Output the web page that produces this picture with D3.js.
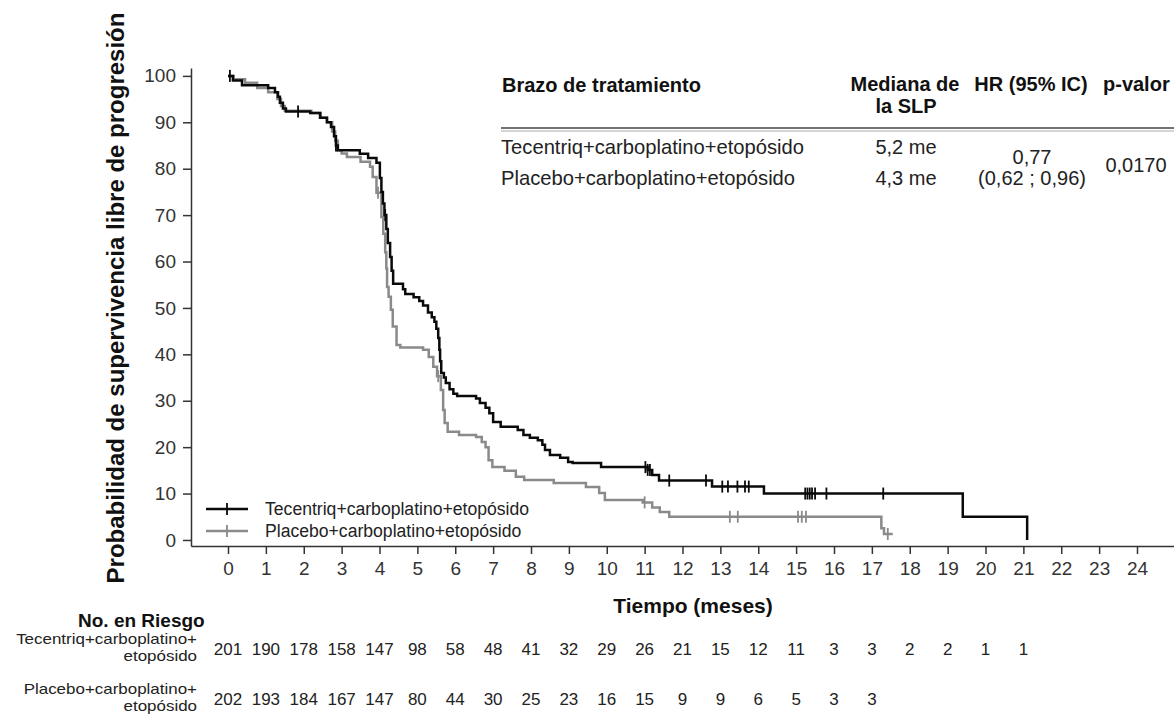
<!DOCTYPE html>
<html>
<head>
<meta charset="utf-8">
<script src="https://cdn.jsdelivr.net/npm/d3@7"></script>
<style>
  body { margin: 0; background: #fff; }
  svg { font-family: "Liberation Sans", Arial, sans-serif; }
</style>
</head>
<body>
<div id="chart"></div>
<script>
// ---- data ----
var months = d3.range(0, 25);
var yTicks = d3.range(0, 101, 10);

var tecTime = [0, 0.13, 0.37, 1.06, 1.24, 1.32, 1.37, 1.45, 1.53, 2.17,
  2.43, 2.61, 2.72, 2.80, 2.85, 2.90, 3.48, 3.70, 3.92, 4.01,
  4.05, 4.09, 4.13, 4.18, 4.22, 4.28, 4.32, 4.36, 4.62, 4.68,
  4.90, 5.05, 5.15, 5.28, 5.38, 5.45, 5.50, 5.55, 5.58, 5.60,
  5.63, 5.70, 5.75, 5.85, 5.95, 6.05, 6.55, 6.65, 6.80, 6.90,
  7.00, 7.20, 7.65, 7.80, 7.97, 8.18, 8.30, 8.37, 8.50, 8.77,
  8.98, 9.10, 9.85, 11.08, 11.20, 11.38, 12.78, 14.15, 19.40, 21.10];
var tecSurv = [100, 99, 98, 97.4, 96.5, 95.5, 94.2, 93, 92.3, 92,
  91, 90, 89, 87, 85, 84, 83.2, 82.3, 81.3, 78,
  75, 72.5, 70, 67, 64, 61, 58, 55.2, 54, 53,
  52.3, 51.5, 50.5, 49, 48, 47, 45.5, 43.5, 41, 38.5,
  36, 35, 33.8, 32.5, 31.5, 31, 30.5, 29.5, 28.5, 27.3,
  25.4, 24.4, 23.7, 22.6, 22, 21.5, 20.5, 19.4, 18.3, 17.7,
  16.8, 16.6, 15.7, 15.1, 14, 12.8, 11.5, 10, 5, 0];
var tecCens = [0.05, 1.85, 2.85, 4.15, 11.02, 11.08, 11.14, 11.65, 12.62, 13.05,
  13.2, 13.45, 13.65, 13.75, 15.24, 15.3, 15.36, 15.42, 15.5, 15.8, 17.3];

var plaTime = [0, 0.15, 0.45, 0.77, 1.06, 1.3, 1.4, 1.5, 2.2, 2.45,
  2.62, 2.75, 2.83, 2.9, 3.0, 3.14, 3.5, 3.75, 3.82, 3.92,
  4.05, 4.1, 4.15, 4.18, 4.2, 4.24, 4.3, 4.35, 4.45, 4.55,
  5.15, 5.3, 5.42, 5.52, 5.62, 5.68, 5.72, 5.8, 6.1, 6.55,
  6.7, 6.8, 6.88, 6.98, 7.3, 7.6, 7.82, 8.6, 9.45, 9.8,
  9.95, 10.95, 11.2, 11.4, 11.65, 17.25, 17.32, 17.55];
var plaSurv = [100, 99.3, 98.5, 97.4, 96.5, 95, 93.5, 92.5, 92, 91,
  90, 88, 86, 84, 83.3, 82.5, 81.5, 80.4, 78.2, 74.8,
  69.6, 66, 62, 58.5, 54.5, 52.4, 49.6, 46, 42, 41.5,
  41, 39.4, 37.3, 35.3, 32.3, 28, 25.2, 23.3, 22.6, 22.2,
  21.1, 20, 17.2, 15.7, 14.9, 13.6, 12.9, 12.3, 11.4, 10.1,
  8.6, 8.1, 7, 6, 5, 2.5, 1.3, 1.3];
var plaCens = [3.96, 5.55, 11.0, 13.25, 13.46, 15.05, 15.15, 15.26, 17.42];

var armNames = ["Tecentriq+carboplatino+etopósido", "Placebo+carboplatino+etopósido"];
var medians = ["5,2 me", "4,3 me"];
var hrText = ["0,77", "(0,62 ; 0,96)"];
var pValue = "0,0170";

var riskLabels = [["Tecentriq+carboplatino+", "etopósido"], ["Placebo+carboplatino+", "etopósido"]];
var tecRisk = [201, 190, 178, 158, 147, 98, 58, 48, 41, 32, 29, 26, 21, 15, 12, 11, 3, 3, 2, 2, 1, 1];
var plaRisk = [202, 193, 184, 167, 147, 80, 44, 30, 25, 23, 16, 15, 9, 9, 6, 5, 3, 3];

// ---- drawing ----
var W = 1174, H = 714;
var svg = d3.select("#chart").append("svg").attr("width", W).attr("height", H);

var x = d3.scaleLinear().domain([-0.977, 24.977]).range([191, 1174]);
var y = d3.scaleLinear().domain([-1.3, 101.7]).range([546, 68]);

var arms = [
  {time: tecTime, surv: tecSurv, cens: tecCens, color: "#0a0a0a"},
  {time: plaTime, surv: plaSurv, cens: plaCens, color: "#8a8a8a"}
];

function stepValue(arm, t) {
  var i = d3.bisectRight(arm.time, t) - 1;
  return arm.surv[Math.max(i, 0)];
}

// axes
var xAxis = svg.append("g").attr("transform", "translate(0,546)")
  .call(d3.axisBottom(x).tickValues(months).tickSize(8).tickSizeOuter(0).tickPadding(8));
var yAxis = svg.append("g").attr("transform", "translate(191,0)")
  .call(d3.axisLeft(y).tickValues(yTicks).tickSize(8).tickSizeOuter(0).tickPadding(7));

[xAxis, yAxis].forEach(function (g) {
  g.selectAll("path, line").attr("stroke", "#333").attr("stroke-width", 1.5);
  g.selectAll("text").attr("font-size", 19).attr("fill", "#333")
    .attr("font-family", "'Liberation Sans', Arial, sans-serif");
});

svg.append("text")
  .attr("transform", "translate(124,298) rotate(-90)")
  .attr("text-anchor", "middle").attr("font-size", 24).attr("font-weight", "bold").attr("fill", "#111")
  .text("Probabilidad de supervivencia libre de progresión");

svg.append("text")
  .attr("x", 693).attr("y", 613).attr("text-anchor", "middle")
  .attr("font-size", 21).attr("font-weight", "bold").attr("fill", "#111")
  .text("Tiempo (meses)");

// curves, grey first so black sits on top
var line = d3.line().curve(d3.curveStepAfter)
  .x(function (d) { return x(d[0]); })
  .y(function (d) { return y(d[1]); });

arms.slice().reverse().forEach(function (arm) {
  var pts = arm.time.map(function (t, i) { return [t, arm.surv[i]]; });
  svg.append("path").datum(pts)
    .attr("d", line).attr("fill", "none")
    .attr("stroke", arm.color).attr("stroke-width", 2.5);
  svg.selectAll(null).data(arm.cens).enter().append("line")
    .attr("x1", function (t) { return x(t); })
    .attr("x2", function (t) { return x(t); })
    .attr("y1", function (t) { return y(stepValue(arm, t)) - 6; })
    .attr("y2", function (t) { return y(stepValue(arm, t)) + 6; })
    .attr("stroke", arm.color).attr("stroke-width", 1.8);
});

// legend
var legend = svg.append("g");
arms.forEach(function (arm, i) {
  var ly = 509 + i * 22;
  legend.append("line").attr("x1", 206).attr("x2", 248).attr("y1", ly).attr("y2", ly)
    .attr("stroke", arm.color).attr("stroke-width", 2.5);
  legend.append("line").attr("x1", 227).attr("x2", 227).attr("y1", ly - 6).attr("y2", ly + 6)
    .attr("stroke", arm.color).attr("stroke-width", 1.8);
  legend.append("text").attr("x", 265).attr("y", ly + 6)
    .attr("font-size", 17.6).attr("fill", "#222").text(armNames[i]);
});

// summary table
var tbl = svg.append("g").attr("fill", "#111");
var hdr = [
  {t: "Brazo de tratamiento", x: 502, y: 92, a: "start"},
  {t: "Mediana de", x: 905, y: 91, a: "middle"},
  {t: "la SLP", x: 906, y: 113, a: "middle"},
  {t: "HR (95% IC)", x: 1031, y: 91, a: "middle"},
  {t: "p-valor", x: 1103, y: 91, a: "start"}
];
tbl.selectAll("text.h").data(hdr).enter().append("text")
  .attr("x", function (d) { return d.x; }).attr("y", function (d) { return d.y; })
  .attr("text-anchor", function (d) { return d.a; })
  .attr("font-size", 20).attr("font-weight", "bold").text(function (d) { return d.t; });
tbl.append("line").attr("x1", 501).attr("x2", 1174).attr("y1", 128).attr("y2", 128)
  .attr("stroke", "#444").attr("stroke-width", 1.6);
tbl.append("line").attr("x1", 501).attr("x2", 1174).attr("y1", 131).attr("y2", 131)
  .attr("stroke", "#aaa").attr("stroke-width", 1);
armNames.forEach(function (n, i) {
  var ty = 154 + i * 31;
  tbl.append("text").attr("x", 501).attr("y", ty).attr("font-size", 20.2).attr("fill", "#222").text(n);
  tbl.append("text").attr("x", 906).attr("y", ty).attr("text-anchor", "middle")
    .attr("font-size", 20).attr("fill", "#222").text(medians[i]);
  tbl.append("text").attr("x", 1032).attr("y", 164 + i * 21).attr("text-anchor", "middle")
    .attr("font-size", 20).attr("fill", "#222").text(hrText[i]);
});
tbl.append("text").attr("x", 1136).attr("y", 172).attr("text-anchor", "middle")
  .attr("font-size", 20).attr("fill", "#222").text(pValue);

// number at risk
svg.append("text").attr("x", 78).attr("y", 627)
  .attr("font-size", 19).attr("font-weight", "bold").attr("fill", "#111").text("No. en Riesgo");

[tecRisk, plaRisk].forEach(function (risk, i) {
  var by = 646 + i * 50;
  // arm label in two tight lines, a bit wide like the source
  var lab = svg.append("g").attr("transform", "translate(197,0) scale(1.13,1)");
  lab.append("text").attr("x", 0).attr("y", by - 2).attr("text-anchor", "end")
    .attr("font-size", 15).attr("fill", "#222").text(riskLabels[i][0]);
  lab.append("text").attr("x", 0).attr("y", by + 15.5).attr("text-anchor", "end")
    .attr("font-size", 15).attr("fill", "#222").text(riskLabels[i][1]);
  svg.selectAll(null).data(risk).enter().append("text")
    .attr("x", function (d, j) { return x(months[j]); })
    .attr("y", by + 9)
    .attr("text-anchor", "middle").attr("font-size", 17).attr("fill", "#222")
    .text(function (d) { return d; });
});
</script>
</body>
</html>
